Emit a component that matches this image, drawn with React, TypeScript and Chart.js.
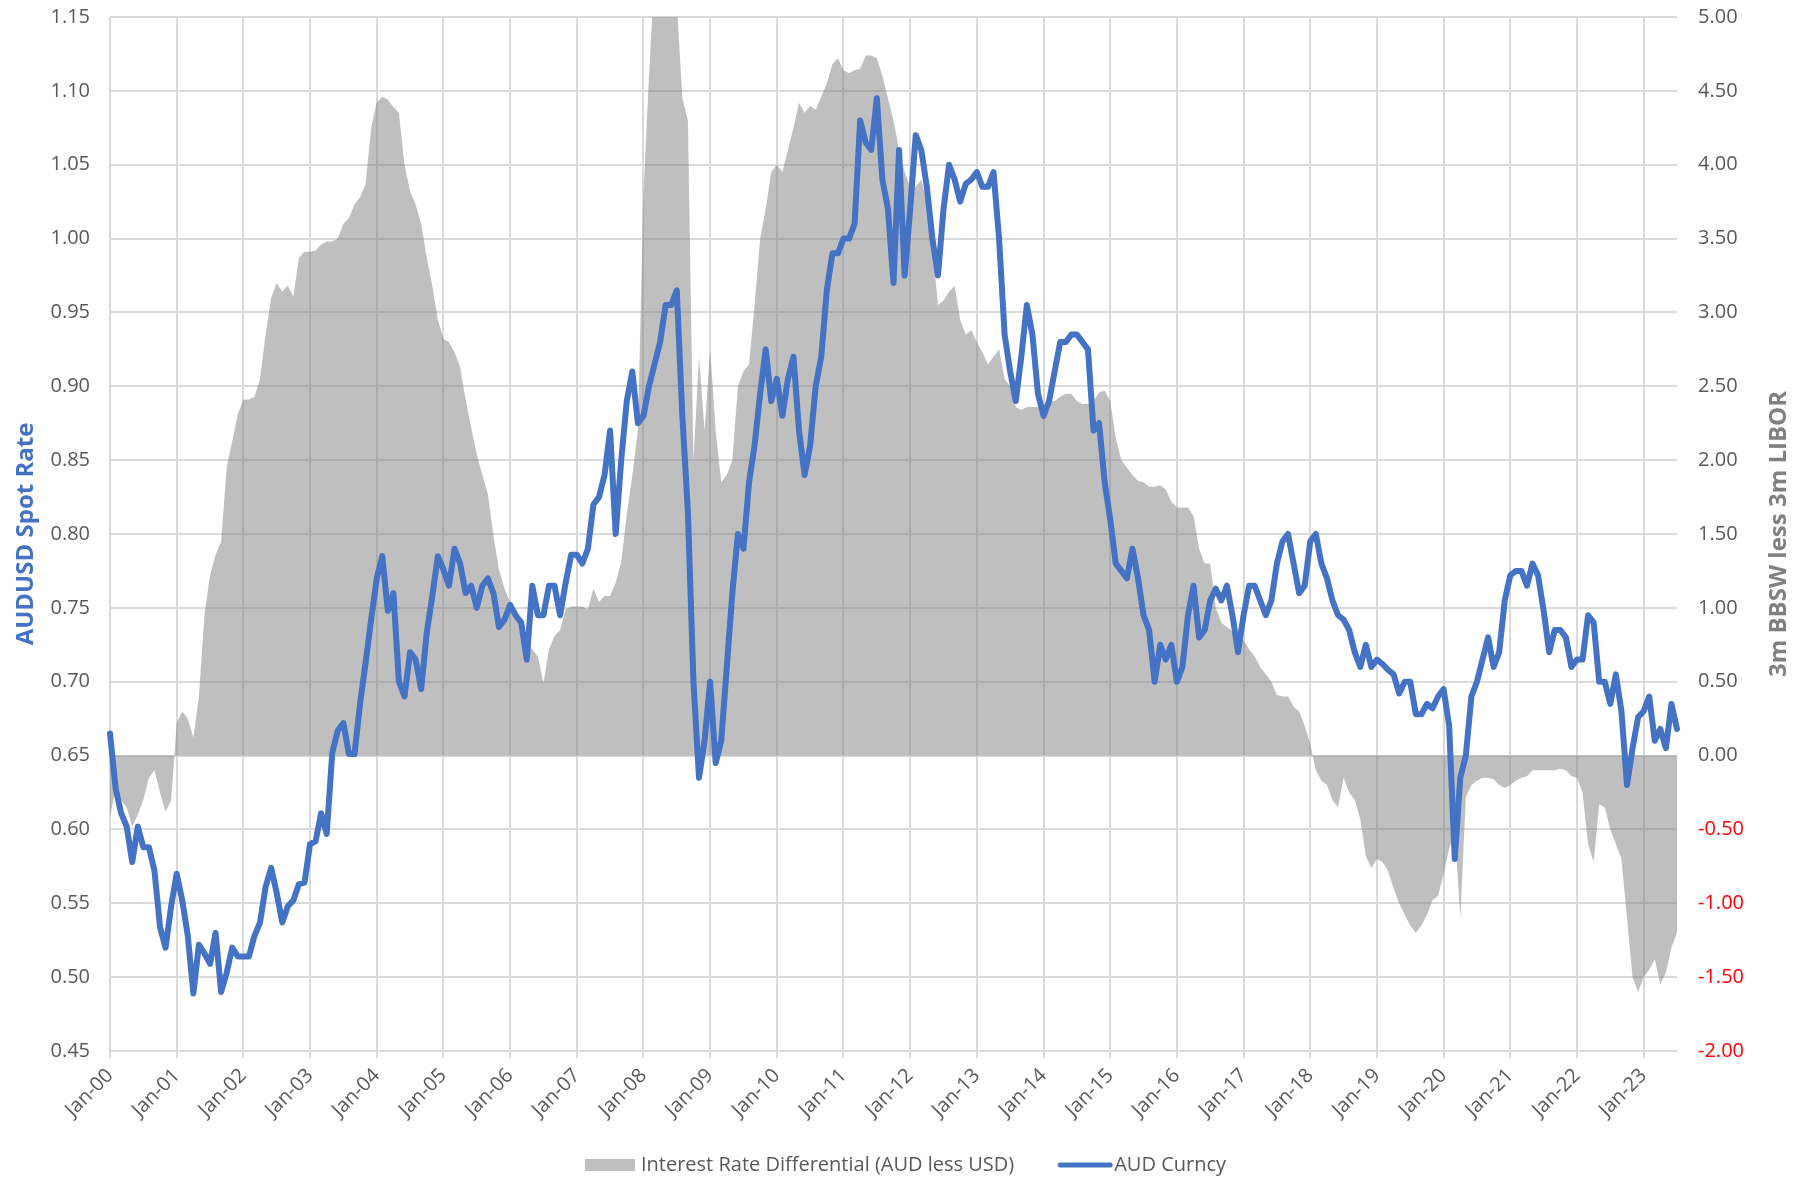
import { useEffect, useRef } from 'react';
import { Chart, registerables } from 'chart.js';

Chart.register(...registerables);

const MONTHS = ['Jan', 'Feb', 'Mar', 'Apr', 'May', 'Jun', 'Jul', 'Aug', 'Sep', 'Oct', 'Nov', 'Dec'];
const YEARS = ['00', '01', '02', '03', '04', '05', '06', '07', '08', '09', '10', '11', '12', '13', '14', '15', '16', '17', '18', '19', '20', '21', '22', '23'];
const MONTHS_IN_LAST_YEAR = 7;

const LEFT_TITLE = 'AUDUSD Spot Rate';
const RIGHT_TITLE = '3m BBSW less 3m LIBOR';
const AREA_LABEL = 'Interest Rate Differential (AUD less USD)';
const LINE_LABEL = 'AUD Curncy';

const LEFT_MIN = 0.45;
const LEFT_MAX = 1.15;
const LEFT_STEP = 0.05;
const RIGHT_MIN = -2;
const RIGHT_MAX = 5;
const RIGHT_STEP = 0.5;

// AUDUSD spot, monthly Jan-2000 .. Jul-2023
const audCurncy = [
  0.665, 0.628, 0.611, 0.602, 0.578, 0.602, 0.588, 0.588, 0.572, 0.534, 0.52, 0.548,
  0.57, 0.552, 0.528, 0.489, 0.522, 0.516, 0.509, 0.53, 0.49, 0.503, 0.52, 0.514,
  0.514, 0.514, 0.528, 0.537, 0.561, 0.574, 0.557, 0.537, 0.548, 0.552, 0.563, 0.564,
  0.59, 0.592, 0.611, 0.597, 0.652, 0.667, 0.672, 0.651, 0.651, 0.685, 0.713, 0.742,
  0.77, 0.785, 0.748, 0.76, 0.70, 0.69, 0.72, 0.715, 0.695, 0.733, 0.758, 0.785,
  0.776, 0.765, 0.79, 0.78, 0.76, 0.765, 0.75, 0.765, 0.77, 0.76, 0.737, 0.742,
  0.752, 0.745, 0.74, 0.715, 0.765, 0.745, 0.745, 0.765, 0.765, 0.745, 0.767, 0.786,
  0.786, 0.78, 0.79, 0.82, 0.825, 0.84, 0.87, 0.80, 0.85, 0.89, 0.91, 0.875,
  0.88, 0.90, 0.915, 0.93, 0.955, 0.955, 0.965, 0.88, 0.815, 0.70, 0.635, 0.66,
  0.70, 0.645, 0.66, 0.71, 0.76, 0.80, 0.79, 0.835, 0.86, 0.895, 0.925, 0.89,
  0.905, 0.88, 0.905, 0.92, 0.87, 0.84, 0.86, 0.90, 0.92, 0.965, 0.99, 0.99,
  1.00, 1.00, 1.01, 1.08, 1.065, 1.06, 1.095, 1.04, 1.02, 0.97, 1.06, 0.975,
  1.02, 1.07, 1.06, 1.035, 1.00, 0.975, 1.02, 1.05, 1.04, 1.025, 1.037, 1.04,
  1.045, 1.035, 1.035, 1.045, 1.00, 0.935, 0.91, 0.89, 0.92, 0.955, 0.935, 0.895,
  0.88, 0.89, 0.91, 0.93, 0.93, 0.935, 0.935, 0.93, 0.925, 0.87, 0.875, 0.835,
  0.81, 0.78, 0.775, 0.77, 0.79, 0.77, 0.745, 0.735, 0.70, 0.725, 0.715, 0.725,
  0.70, 0.71, 0.745, 0.765, 0.73, 0.735, 0.755, 0.763, 0.755, 0.765, 0.745, 0.72,
  0.745, 0.765, 0.765, 0.755, 0.745, 0.755, 0.78, 0.795, 0.80, 0.78, 0.76, 0.765,
  0.795, 0.80, 0.78, 0.77, 0.755, 0.745, 0.742, 0.735, 0.72, 0.71, 0.725, 0.71,
  0.715, 0.712, 0.708, 0.705, 0.692, 0.70, 0.70, 0.678, 0.678, 0.685, 0.682, 0.69,
  0.695, 0.67, 0.58, 0.635, 0.65, 0.69, 0.70, 0.715, 0.73, 0.71, 0.72, 0.755,
  0.772, 0.775, 0.775, 0.765, 0.78, 0.772, 0.748, 0.72, 0.735, 0.735, 0.73, 0.71,
  0.715, 0.715, 0.745, 0.74, 0.70, 0.70, 0.685, 0.705, 0.68, 0.63, 0.655, 0.676,
  0.68, 0.69, 0.66, 0.668, 0.655, 0.685, 0.668,
];

// 3m BBSW less 3m LIBOR (percentage points), monthly Jan-2000 .. Jul-2023
const rateDiff = [
  -0.42, -0.22, -0.3, -0.35, -0.48, -0.4, -0.3, -0.15, -0.1, -0.25, -0.38, -0.3,
  0.22, 0.3, 0.25, 0.12, 0.4, 0.95, 1.22, 1.36, 1.45, 1.95, 2.13, 2.31,
  2.41, 2.41, 2.43, 2.55, 2.85, 3.1, 3.2, 3.14, 3.18, 3.11, 3.37, 3.41,
  3.41, 3.42, 3.46, 3.48, 3.48, 3.5, 3.6, 3.64, 3.73, 3.78, 3.87, 4.25,
  4.42, 4.46, 4.44, 4.39, 4.35, 4.0, 3.82, 3.73, 3.6, 3.37, 3.18, 2.95,
  2.82, 2.8, 2.73, 2.63, 2.41, 2.22, 2.04, 1.9, 1.77, 1.49, 1.26, 1.13,
  1.04, 0.99, 0.9, 0.76, 0.72, 0.67, 0.49, 0.72, 0.81, 0.85, 0.99, 1.01,
  1.01, 1.01, 0.99, 1.13, 1.04, 1.08, 1.08, 1.17, 1.31, 1.63, 1.9, 2.2,
  3.8, 4.6, 5.3, 5.3, 5.3, 5.2, 5.1, 4.45, 4.3, 2.0, 2.7, 2.2,
  2.75, 2.2, 1.85, 1.9, 2.0, 2.5, 2.6, 2.65, 3.05, 3.5, 3.7, 3.95,
  4.0, 3.95, 4.1, 4.25, 4.42, 4.35, 4.4, 4.37, 4.46, 4.55, 4.68, 4.72,
  4.64, 4.62, 4.64, 4.65, 4.74, 4.74, 4.72, 4.6, 4.45, 4.3, 4.1, 3.95,
  3.85, 3.85, 3.9, 3.75, 3.45, 3.05, 3.08, 3.14, 3.18, 2.95, 2.85, 2.88,
  2.8, 2.73, 2.65, 2.7, 2.75, 2.55, 2.5, 2.36, 2.34, 2.36, 2.36, 2.36,
  2.37, 2.4, 2.4, 2.43, 2.45, 2.45, 2.4, 2.38, 2.38, 2.4, 2.46, 2.47,
  2.4, 2.15, 2.0, 1.95, 1.9, 1.86, 1.85, 1.82, 1.82, 1.83, 1.8, 1.72,
  1.68, 1.68, 1.68, 1.62, 1.4, 1.3, 1.3, 1.0, 0.9, 0.87, 0.84, 0.8,
  0.78, 0.72, 0.67, 0.6, 0.55, 0.5, 0.41, 0.4, 0.4, 0.33, 0.3, 0.2,
  0.08, -0.1, -0.17, -0.2, -0.3, -0.35, -0.15, -0.25, -0.3, -0.43, -0.68, -0.76,
  -0.7, -0.72, -0.78, -0.9, -1.0, -1.08, -1.15, -1.2, -1.15, -1.08, -0.98, -0.95,
  -0.8, -0.63, -0.5, -1.1, -0.28, -0.2, -0.17, -0.15, -0.15, -0.16, -0.2, -0.22,
  -0.2, -0.17, -0.15, -0.14, -0.1, -0.1, -0.1, -0.1, -0.1, -0.09, -0.1, -0.14,
  -0.15, -0.25, -0.6, -0.72, -0.33, -0.35, -0.5, -0.6, -0.7, -1.1, -1.5, -1.6,
  -1.5, -1.45, -1.38, -1.55, -1.47, -1.3, -1.2,
];

const labels: string[] = [];
YEARS.forEach((yy, yi) => {
  MONTHS.forEach((m, mi) => {
    if (yi < YEARS.length - 1 || mi < MONTHS_IN_LAST_YEAR) labels.push(`${m}-${yy}`);
  });
});

const FONT = '"Open Sans", "Liberation Sans", sans-serif';
const TICK_COLOR = '#595959';
const GRID_COLOR = '#d9d9d9';
const BLUE = '#4472C4';
const AREA_FILL = 'rgba(128,128,128,0.5)';

const W = 1811;
const H = 1179;

const axisTitles = {
  id: 'axisTitles',
  afterDraw(chart: any) {
    const { ctx, chartArea } = chart;
    const cy = (chartArea.top + chartArea.bottom) / 2;
    ctx.save();
    ctx.font = `bold 24px ${FONT}`;
    ctx.textAlign = 'center';
    ctx.textBaseline = 'middle';
    ctx.save();
    ctx.translate(chartArea.left - 84, cy);
    ctx.rotate(-Math.PI / 2);
    ctx.fillStyle = BLUE;
    ctx.fillText(LEFT_TITLE, 0, 0);
    ctx.restore();
    ctx.save();
    ctx.translate(chartArea.right + 102, cy);
    ctx.rotate(-Math.PI / 2);
    ctx.fillStyle = '#808080';
    ctx.fillText(RIGHT_TITLE, 0, 0);
    ctx.restore();
    ctx.restore();
  },
};

const bottomLegend = {
  id: 'bottomLegend',
  afterDraw(chart: any) {
    const { ctx, width, height } = chart;
    ctx.save();
    ctx.font = `20px ${FONT}`;
    ctx.textBaseline = 'middle';
    ctx.textAlign = 'left';
    const boxW = 50;
    const gap1 = 6;
    const lineW = 54;
    const gap2 = 2;
    const between = 44;
    const t1 = ctx.measureText(AREA_LABEL).width;
    const t2 = ctx.measureText(LINE_LABEL).width;
    const total = boxW + gap1 + t1 + between + lineW + gap2 + t2;
    let x = width / 2 - total / 2;
    const y = height - 14;
    ctx.fillStyle = AREA_FILL;
    ctx.fillRect(x, y - 6, boxW, 12);
    x += boxW + gap1;
    ctx.fillStyle = TICK_COLOR;
    ctx.fillText(AREA_LABEL, x, y);
    x += t1 + between;
    ctx.strokeStyle = BLUE;
    ctx.lineWidth = 5;
    ctx.lineCap = 'round';
    ctx.beginPath();
    ctx.moveTo(x + 2, y);
    ctx.lineTo(x + lineW - 2, y);
    ctx.stroke();
    x += lineW + gap2;
    ctx.fillText(LINE_LABEL, x, y);
    ctx.restore();
  },
};

const fitVertical = (width: number) => (scale: any) => {
  scale.width = width;
  scale.paddingTop = 0;
  scale.paddingBottom = 0;
};

export default function App() {
  const canvasRef = useRef<HTMLCanvasElement | null>(null);

  useEffect(() => {
    document.body.style.margin = '0';
    document.body.style.overflow = 'hidden';
    const canvas = canvasRef.current;
    if (!canvas) return;
    const chart = new Chart(canvas, {
      type: 'line',
      data: {
        labels,
        datasets: [
          {
            label: LINE_LABEL,
            data: audCurncy,
            yAxisID: 'y',
            borderColor: BLUE,
            backgroundColor: BLUE,
            borderWidth: 6,
            pointRadius: 0,
            tension: 0,
            fill: false,
            borderJoinStyle: 'round',
            borderCapStyle: 'round',
            order: 0,
          },
          {
            label: AREA_LABEL,
            data: rateDiff,
            yAxisID: 'y1',
            borderColor: 'rgba(0,0,0,0)',
            borderWidth: 0,
            backgroundColor: AREA_FILL,
            pointRadius: 0,
            tension: 0,
            fill: 'origin',
            order: 1,
          },
        ],
      },
      options: {
        responsive: false,
        animation: false,
        devicePixelRatio: 1,
        layout: { padding: { top: 17, left: 0, right: 0, bottom: 0 } },
        plugins: {
          legend: { display: false },
          tooltip: { enabled: false },
        },
        scales: {
          x: {
            type: 'category',
            offset: false,
            afterFit: (scale: any) => { scale.height = 128; },
            border: { display: false },
            grid: {
              color: (c: any) => (c.index % 12 === 0 ? GRID_COLOR : 'rgba(0,0,0,0)'),
              lineWidth: 2,
              drawTicks: true,
              tickLength: 7,
            },
            ticks: {
              autoSkip: false,
              minRotation: 45,
              maxRotation: 45,
              padding: 6,
              color: TICK_COLOR,
              font: { family: FONT, size: 20 },
              callback: (_v: any, i: number) => (i % 12 === 0 ? labels[i] : ''),
            },
          },
          y: {
            position: 'left',
            min: LEFT_MIN,
            max: LEFT_MAX,
            afterFit: fitVertical(110),
            border: { display: false },
            grid: { color: GRID_COLOR, lineWidth: 2, drawTicks: false },
            ticks: {
              stepSize: LEFT_STEP,
              padding: 20,
              color: TICK_COLOR,
              font: { family: FONT, size: 20 },
              callback: (v: any) => Number(v).toFixed(2),
            },
          },
          y1: {
            position: 'right',
            min: RIGHT_MIN,
            max: RIGHT_MAX,
            afterFit: fitVertical(W - 1677),
            border: { display: false },
            grid: { display: false, drawOnChartArea: false, drawTicks: false },
            ticks: {
              stepSize: RIGHT_STEP,
              padding: 21,
              color: (c: any) => (c.tick && c.tick.value < 0 ? '#FF0000' : TICK_COLOR),
              font: { family: FONT, size: 20 },
              callback: (v: any) => Number(v).toFixed(2),
            },
          },
        },
      },
      plugins: [axisTitles, bottomLegend],
    } as any);
    return () => chart.destroy();
  }, []);

  return (
    <div style={{ width: W, height: H, position: 'relative', background: '#fff' }}>
      <canvas ref={canvasRef} width={W} height={H} style={{ display: 'block', width: W, height: H }} />
    </div>
  );
}
